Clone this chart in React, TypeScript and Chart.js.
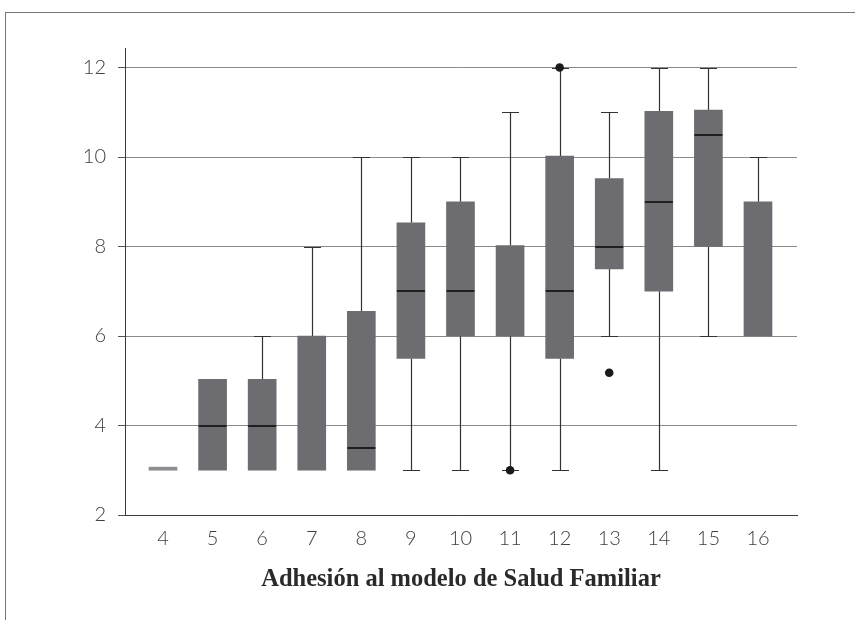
import React, { useEffect, useRef } from "react";
import { Chart, registerables } from "chart.js";

Chart.register(...registerables);

// ---- data ----
const CATEGORIES = [4, 5, 6, 7, 8, 9, 10, 11, 12, 13, 14, 15, 16];
const Q1 = [3, 3, 3, 3, 3, 5.5, 6, 6, 5.5, 7.5, 7, 8, 6];
const Q3 = [3.07, 5.03, 5.03, 6, 6.55, 8.53, 9, 8.02, 10.02, 9.52, 11.02, 11.05, 9];
const MEDIANS: (number | null)[] = [null, 4, 4, null, 3.5, 7, 7, null, 7, 8, 9, 10.5, null];
const WHISKER_LOW: (number | null)[] = [null, null, null, null, null, 3, 3, 3, 3, 6, 3, 6, null];
const WHISKER_HIGH: (number | null)[] = [null, null, 6, 8, 10, 10, 10, 11, 12, 11, 12, 12, 10];
const OUTLIER_X = [11, 12, 13];
const OUTLIER_Y = [3, 12, 5.18];
const Y_TICKS = [2, 4, 6, 8, 10, 12];
const X_TITLE = "Adhesión al modelo de Salud Familiar";

const BOX_COLOR = "#6c6c71";
const FLAT_BOX_COLOR = "#8e8e92";
const WHISKER_COLOR = "#333333";
const MEDIAN_COLOR = "#1f1f22";

const boxPlugin = {
  id: "boxParts",
  beforeDatasetsDraw(chart: any) {
    const { ctx, scales } = chart;
    const xs = scales.x;
    const ys = scales.y;
    ctx.save();
    ctx.strokeStyle = WHISKER_COLOR;
    ctx.lineWidth = 1.2;
    const cap = 8.5;
    CATEGORIES.forEach((c, i) => {
      const x = Math.round(xs.getPixelForValue(c)) + 0.5;
      const lo = WHISKER_LOW[i];
      const hi = WHISKER_HIGH[i];
      if (hi !== null) {
        const yTop = Math.round(ys.getPixelForValue(hi)) + 0.5;
        const yB = ys.getPixelForValue(Q3[i]);
        ctx.beginPath();
        ctx.moveTo(x, yB);
        ctx.lineTo(x, yTop);
        ctx.moveTo(x - cap, yTop);
        ctx.lineTo(x + cap, yTop);
        ctx.stroke();
      }
      if (lo !== null) {
        const yBot = Math.round(ys.getPixelForValue(lo)) + 0.5;
        const yB = ys.getPixelForValue(Q1[i]);
        ctx.beginPath();
        ctx.moveTo(x, yB);
        ctx.lineTo(x, yBot);
        ctx.moveTo(x - cap, yBot);
        ctx.lineTo(x + cap, yBot);
        ctx.stroke();
      }
    });
    ctx.restore();
  },
  afterDatasetsDraw(chart: any) {
    const { ctx, scales } = chart;
    const xs = scales.x;
    const ys = scales.y;
    const meta = chart.getDatasetMeta(0);
    ctx.save();
    ctx.strokeStyle = MEDIAN_COLOR;
    ctx.lineWidth = 2;
    CATEGORIES.forEach((c, i) => {
      const m = MEDIANS[i];
      if (m === null) return;
      const bar: any = meta.data[i];
      const half = bar ? bar.width / 2 : 14;
      const x = xs.getPixelForValue(c);
      const y = Math.round(ys.getPixelForValue(m));
      ctx.beginPath();
      ctx.moveTo(x - half, y);
      ctx.lineTo(x + half, y);
      ctx.stroke();
    });
    ctx.restore();
  },
};

export default function App() {
  const ref = useRef<HTMLCanvasElement | null>(null);

  useEffect(() => {
    if (!ref.current) return;
    const chart = new Chart(ref.current, {
      type: "bar",
      data: {
        datasets: [
          {
            type: "bar",
            data: CATEGORIES.map((c, i) => ({ x: c, y: [Q1[i], Q3[i]] })) as any,
            backgroundColor: CATEGORIES.map((c, i) => (Q3[i] - Q1[i] < 0.2 ? FLAT_BOX_COLOR : BOX_COLOR)),
            borderWidth: 0,
            barThickness: 28,
            order: 2,
          } as any,
          {
            type: "scatter",
            data: OUTLIER_X.map((x, i) => ({ x, y: OUTLIER_Y[i] })),
            backgroundColor: "#1a1a1a",
            borderColor: "#1a1a1a",
            pointRadius: 4.3,
            pointBorderWidth: 0,
            order: 1,
          } as any,
        ],
      },
      plugins: [boxPlugin],
      options: {
        responsive: false,
        animation: false,
        events: [],
        layout: { padding: { left: 0, right: 58, top: 48, bottom: 0 } },
        plugins: { legend: { display: false }, tooltip: { enabled: false } },
        scales: {
          x: {
            type: "linear",
            offset: false,
            min: 3.2336,
            max: 16.787,
            afterBuildTicks: (s: any) => {
              s.ticks = CATEGORIES.map((v) => ({ value: v }));
            },
            afterFit: (s: any) => {
              s.height = 105;
            },
            grid: { display: false, drawTicks: false, offset: false },
            border: { display: true, color: "#3a3a3a", width: 1 },
            ticks: {
              autoSkip: false,
              maxRotation: 0,
              padding: 12,
              color: "#3e3e3e",
              font: { family: "Lato", size: 20, weight: 300 },
              callback: (v: any) => String(v),
            },
            title: {
              display: true,
              text: X_TITLE,
              color: "#2a2a2a",
              font: { family: "Liberation Serif", size: 24.5, weight: "bold" },
              padding: { top: 0, bottom: 26 },
            },
          },
          y: {
            type: "linear",
            min: 2,
            max: 12.436,
            afterBuildTicks: (s: any) => {
              s.ticks = Y_TICKS.map((v) => ({ value: v }));
            },
            afterFit: (s: any) => {
              s.width = 125;
            },
            grid: {
              color: "#8a8a8a",
              lineWidth: 1,
              drawTicks: true,
              tickLength: 7,
              tickColor: "#555555",
            },
            border: { display: true, color: "#3a3a3a", width: 1 },
            ticks: {
              padding: 12,
              color: "#3e3e3e",
              font: { family: "Lato", size: 20, weight: 300 },
            },
          },
        },
      },
    });
    return () => chart.destroy();
  }, []);

  return (
    <div style={{ position: "fixed", left: 0, top: 0, width: 855, height: 620, background: "#ffffff" }}>
      <div
        style={{
          position: "absolute",
          left: 5,
          top: 12,
          width: 850,
          height: 608,
          borderTop: "1px solid #777777",
          borderLeft: "1px solid #777777",
          boxSizing: "border-box",
        }}
      />
      <canvas ref={ref} width={855} height={620} style={{ position: "absolute", left: 0, top: 0 }} />
    </div>
  );
}
